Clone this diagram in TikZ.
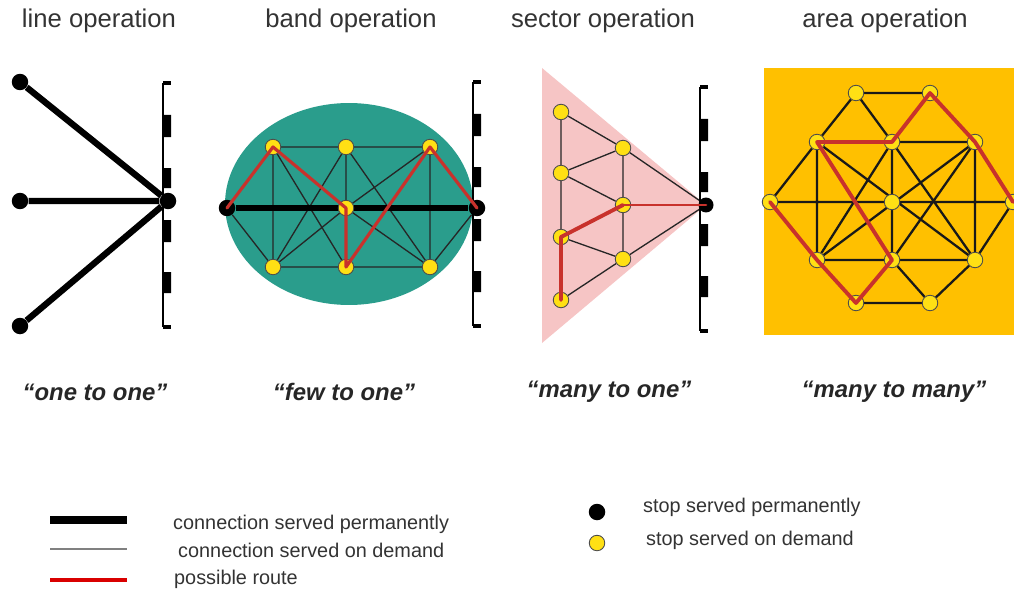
\documentclass[tikz,border=0pt]{standalone}
\usepackage{fontspec}
\setmainfont{Liberation Sans}
\usetikzlibrary{backgrounds}
\definecolor{band}{HTML}{2A9D8C}
\definecolor{sector}{HTML}{F6C5C5}
\definecolor{area}{HTML}{FFC000}
\definecolor{stopyellow}{HTML}{FFE014}
\definecolor{route}{HTML}{C8322C}

\begin{document}
\begin{tikzpicture}[
  x=0.02cm, y=-0.02cm,
  title/.style={anchor=base, font=\fontsize{14.6}{17}\selectfont, text=black!80},
  motto/.style={font=\fontsize{13.6}{16}\selectfont\bfseries\itshape, text=black!85},
  legend/.style={anchor=base west, font=\fontsize{11.3}{13}\selectfont, text=black!80},
  perm/.style={circle, fill=black, inner sep=0pt, minimum size=3.3mm},
  demand/.style={circle, draw=black!70, fill=stopyellow, line width=0.5pt, inner sep=0pt, minimum size=3.1mm},
  fixedline/.style={line width=3.6pt, draw=black},
  link/.style={line width=0.75pt, draw=black!85},
  arealink/.style={line width=1.3pt, draw=black!90},
  routeline/.style={line width=1.8pt, draw=route, line join=round, line cap=round},
  platform/.pic={
    \draw[line width=1pt] (0,0) -- (0,244);
    \draw[line width=2pt] (0,0) -- (8,0) (0,244) -- (8,244);
    \fill (0,32) rectangle (8,54) (0,85) rectangle (8,105)
          (0,137) rectangle (8,159) (0,189) rectangle (8,210);
  }
]
\useasboundingbox (0,0) rectangle (1014,598);

\node[title] (t1) at (99,28) {line operation};
\node[title] (t2) at (351,28) {band operation};
\node[title] (t3) at (603,28) {sector operation};
\node[title] (t4) at (885,28) {area operation};

% line operation
\pic at (163,83) {platform};
\node[perm] (h1) at (168,201) {};
\node[perm] (l1) at (20,82) {};
\node[perm] (l2) at (20,201) {};
\node[perm] (l3) at (20,326) {};
\draw[fixedline] (l1) -- (h1) (l2) -- (h1) (l3) -- (h1);

% band operation
\pic at (473,82) {platform};
\node[perm] (bl) at (227,208) {};
\node[perm] (br) at (477,208) {};
\node[demand] (bt1) at (273,147) {};
\node[demand] (bt2) at (346,147) {};
\node[demand] (bt3) at (430,147) {};
\node[demand] (bm) at (346,208) {};
\node[demand] (bb1) at (273,267) {};
\node[demand] (bb2) at (346,267) {};
\node[demand] (bb3) at (430,267) {};
\begin{pgfonlayer}{background}
\fill[band] (349,204) ellipse [x radius=2.48cm, y radius=2.02cm];
\draw[link] (bt1) -- (bt2) -- (bt3) (bb1) -- (bb2) -- (bb3)
  (bt1) -- (bb1) (bt2) -- (bm) (bt3) -- (bb3)
  (bl) -- (bb1) (bt1) -- (bb2) (bt2) -- (bb1) (bt2) -- (bb3)
  (bm) -- (bb1) (bm) -- (bb3) (bm) -- (bt3) (bb3) -- (br);
\draw[fixedline] (bl) -- (br);
\end{pgfonlayer}
\draw[routeline] (bl.center) -- (bt1.center) -- (bm.center) -- (bb2.center) -- (bt3.center) -- (br.center);

% sector operation
\pic at (700,87) {platform};
\node[perm, minimum size=3mm] (sh) at (706,205) {};
\node[demand] (sa1) at (561,112) {};
\node[demand] (sa2) at (561,173) {};
\node[demand] (sa3) at (561,237) {};
\node[demand] (sa4) at (561,300) {};
\node[demand] (sb1) at (623,148) {};
\node[demand] (sb2) at (623,205) {};
\node[demand] (sb3) at (623,259) {};
\begin{pgfonlayer}{background}
\fill[sector] (542,68) -- (542,343) -- (sh.center) -- cycle;
\draw[link] (sa1) -- (sa2) -- (sa3) -- (sa4) (sa1) -- (sb1) (sa2) -- (sb1)
  (sa2) -- (sb2) (sa3) -- (sb3) (sa4) -- (sb3) (sb1) -- (sb2) -- (sb3)
  (sb1) -- (sh) (sb3) -- (sh);
\end{pgfonlayer}
\draw[routeline, line width=2.2pt] (sa4.center) -- (sa3.center) -- (sb2.center);
\draw[routeline, line width=1.5pt] (sb2.center) -- (sh.center);

% area operation
\node[demand] (ao1) at (856,93) {};
\node[demand] (ao2) at (930,93) {};
\node[demand] (as1) at (817,142) {};
\node[demand] (as2) at (892,142) {};
\node[demand] (as3) at (975,142) {};
\node[demand] (am1) at (770,202) {};
\node[demand] (am2) at (892,202) {};
\node[demand] (am3) at (1013,202) {};
\node[demand] (af1) at (817,260) {};
\node[demand] (af2) at (892,260) {};
\node[demand] (af3) at (975,260) {};
\node[demand] (ab1) at (856,303) {};
\node[demand] (ab2) at (930,303) {};
\begin{pgfonlayer}{background}
\fill[area] (764,68) rectangle (1014,335);
\draw[arealink] (ao1) -- (ao2) (ao1) -- (as1) (ao1) -- (as2) (ao2) -- (as2) (ao2) -- (as3)
  (as1) -- (as2) -- (as3) (am1) -- (am2) -- (am3) (af1) -- (af2) -- (af3) (ab1) -- (ab2)
  (as1) -- (am1) (as3) -- (am3) (am1) -- (af1) (am3) -- (af3)
  (as1) -- (af1) (as2) -- (af2) (as3) -- (af3)
  (as1) -- (af3) (as3) -- (af1) (as2) -- (af1) (as2) -- (af3) (as3) -- (af2) (as1) -- (af2)
  (af1) -- (ab1) (af2) -- (ab1) (af2) -- (ab2) (af3) -- (ab2);
\end{pgfonlayer}
\draw[routeline, line width=2.2pt] (am1.center) -- (af1.center) -- (ab1.center) -- (af2.center) -- (as1.center)
  -- (as2.center) -- (ao2.center) -- (as3.center) -- (am3.center);

\node[motto] (m1) at (95,392) {“one to one”};
\node[motto] (m2) at (344,392) {“few to one”};
\node[motto] (m3) at (609,392) {“many to one”};
\node[motto] (m4) at (894,392) {“many to many”};

% legend
\coordinate (k1a) at (50,520);
\coordinate (k1b) at (127,520);
\coordinate (k2a) at (50,549);
\coordinate (k2b) at (127,549);
\coordinate (k3a) at (50,580);
\coordinate (k3b) at (127,580);
\draw[fixedline, line width=4pt] (k1a) -- (k1b);
\draw[line width=0.6pt, draw=black!50] (k2a) -- (k2b);
\draw[line width=2.5pt, draw=red!85!black] (k3a) -- (k3b);
\node[legend] (k1) at (167,529) {connection served permanently};
\node[legend] (k2) at (172,557) {connection served on demand};
\node[legend] (k3) at (168,584) {possible route};
\node[perm] (kp) at (597,512) {};
\node[demand] (kd) at (597,543) {};
\node[legend] (k4) at (637,512) {stop served permanently};
\node[legend] (k5) at (640,545) {stop served on demand};
\end{tikzpicture}
\end{document}
